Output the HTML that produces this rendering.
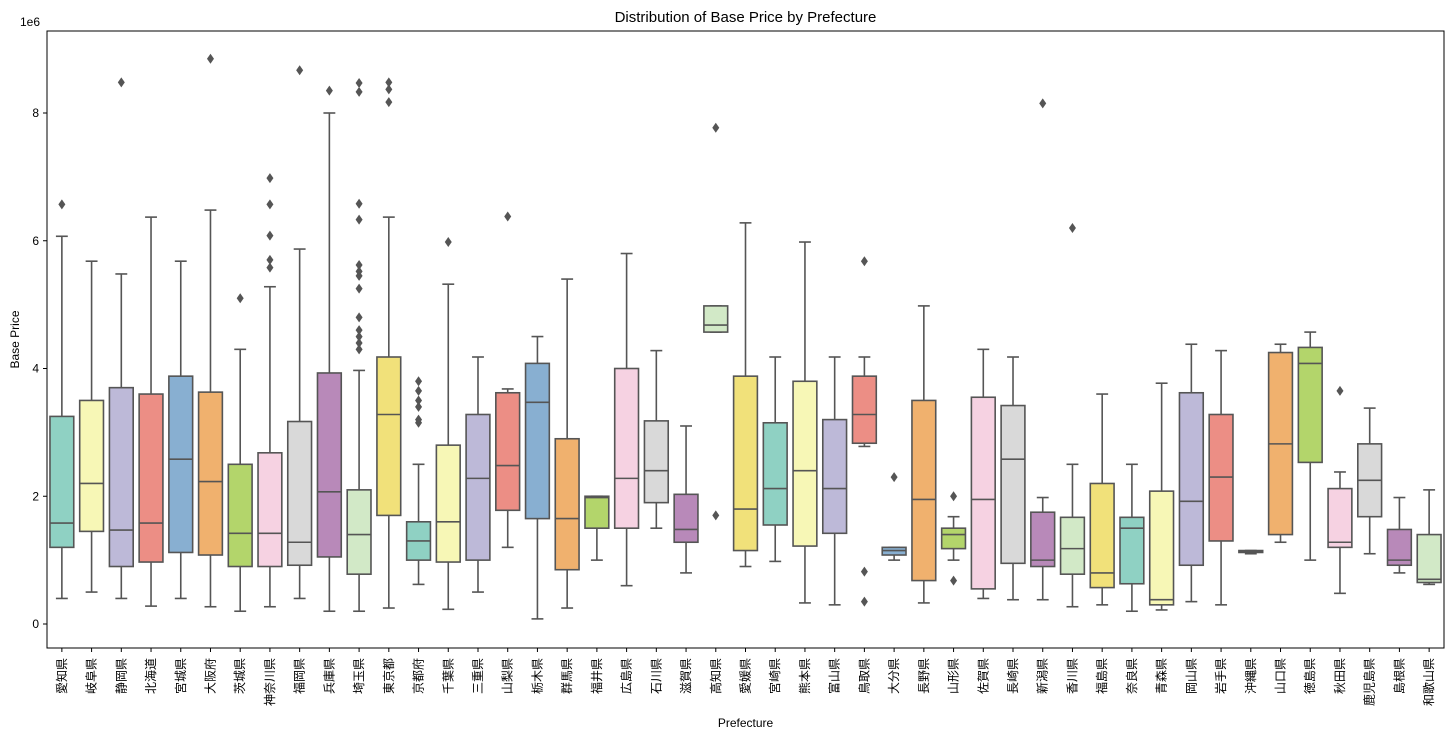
<!DOCTYPE html>
<html><head><meta charset="utf-8"><style>
body{margin:0;background:#fff;}
svg{display:block;font-family:"Liberation Sans","Noto Sans CJK JP",sans-serif;}
</style></head><body>
<svg id="chart" width="1452" height="741"></svg>
<script>
const categories=["愛知県","岐阜県","静岡県","北海道","宮城県","大阪府","茨城県","神奈川県","福岡県","兵庫県","埼玉県","東京都","京都府","千葉県","三重県","山梨県","栃木県","群馬県","福井県","広島県","石川県","滋賀県","高知県","愛媛県","宮崎県","熊本県","富山県","鳥取県","大分県","長野県","山形県","佐賀県","長崎県","新潟県","香川県","福島県","奈良県","青森県","岡山県","岩手県","沖縄県","山口県","徳島県","秋田県","鹿児島県","島根県","和歌山県"];
const whiskerLow=[0.4,0.5,0.4,0.28,0.4,0.27,0.2,0.27,0.4,0.2,0.2,0.25,0.62,0.23,0.5,1.2,0.08,0.25,1.0,0.6,1.5,0.8,4.57,0.9,0.98,0.33,0.3,2.78,1.0,0.33,1.0,0.4,0.38,0.38,0.27,0.3,0.2,0.22,0.35,0.3,1.1,1.28,1.0,0.48,1.1,0.8,0.62];
const q1=[1.2,1.45,0.9,0.97,1.12,1.08,0.9,0.9,0.92,1.05,0.78,1.7,1.0,0.97,1.0,1.78,1.65,0.85,1.5,1.5,1.9,1.28,4.57,1.15,1.55,1.22,1.42,2.83,1.08,0.68,1.18,0.55,0.95,0.9,0.78,0.57,0.63,0.3,0.92,1.3,1.12,1.4,2.53,1.2,1.68,0.92,0.65];
const median=[1.58,2.2,1.47,1.58,2.58,2.23,1.42,1.42,1.28,2.07,1.4,3.28,1.3,1.6,2.28,2.48,3.47,1.65,1.98,2.28,2.4,1.48,4.68,1.8,2.12,2.4,2.12,3.28,1.15,1.95,1.4,1.95,2.58,1.0,1.18,0.8,1.5,0.38,1.92,2.3,1.13,2.82,4.08,1.28,2.25,1.0,0.7];
const q3=[3.25,3.5,3.7,3.6,3.88,3.63,2.5,2.68,3.17,3.93,2.1,4.18,1.6,2.8,3.28,3.62,4.08,2.9,2.0,4.0,3.18,2.03,4.98,3.88,3.15,3.8,3.2,3.88,1.2,3.5,1.5,3.55,3.42,1.75,1.67,2.2,1.67,2.08,3.62,3.28,1.15,4.25,4.33,2.12,2.82,1.48,1.4];
const whiskerHigh=[6.07,5.68,5.48,6.37,5.68,6.48,4.3,5.28,5.87,8.0,3.97,6.37,2.5,5.32,4.18,3.68,4.5,5.4,2.0,5.8,4.28,3.1,4.98,6.28,4.18,5.98,4.18,4.18,1.2,4.98,1.68,4.3,4.18,1.98,2.5,3.6,2.5,3.77,4.38,4.28,1.15,4.38,4.57,2.38,3.38,1.98,2.1];
const outliers=[[6.57],[],[8.48],[],[],[8.85],[5.1],[5.58,5.7,6.08,6.57,6.98],[8.67],[8.35],[4.3,4.4,4.5,4.6,4.8,5.25,5.45,5.52,5.62,6.33,6.58,8.33,8.47],[8.17,8.37,8.48],[3.15,3.2,3.4,3.5,3.65,3.8],[5.98],[],[6.38],[],[],[],[],[],[],[1.7,7.77],[],[],[],[],[0.35,0.82,5.68],[2.3],[],[0.68,2.0],[],[],[8.15],[6.2],[],[],[],[],[],[],[],[],[3.65],[],[],[]];
const yTicks=[0,2,4,6,8];
const palette=["#8fd1c3","#f7f7b6","#bdb9d8","#ec8e85","#88afd1","#f0b16e","#b3d56b","#f6d2e2","#d9d9d9","#b889b9","#d2e9c7","#f1e17a"];

const NS="http://www.w3.org/2000/svg";
const svg=document.getElementById('chart');
const L=47,R=1444,T=31,B=648;
const y0=624,pxPerUnit=63.875;
const band=(R-L)/categories.length;
const yS=v=>y0-v*pxPerUnit;
const xS=i=>L+band*(i+0.5);
function mk(tag,attrs,parent){const e=document.createElementNS(NS,tag);for(const k in attrs)e.setAttribute(k,attrs[k]);(parent||svg).appendChild(e);return e;}
const ln="#555555";

const title=mk('text',{x:(L+R)/2,y:22,'text-anchor':'middle','font-size':15,fill:'#000'});


title.textContent="Distribution of Base Price by Prefecture";

const expo=mk('text',{x:20,y:26,'font-size':12,fill:'#000'});


expo.textContent="1e6";

yTicks.forEach(t=>{
  mk('line',{x1:L-4,x2:L,y1:yS(t),y2:yS(t),stroke:'#000'});
  const tx=mk('text',{x:L-8,y:yS(t)+4,'text-anchor':'end','font-size':12,fill:'#000'});
  
  
  tx.textContent=t;
});

const yl=mk('text',{transform:'translate(19,'+((T+B)/2)+') rotate(-90)','text-anchor':'middle','font-size':12,fill:'#000'});


yl.textContent="Base Price";
const xl=mk('text',{x:(L+R)/2,y:727,'text-anchor':'middle','font-size':12,fill:'#000'});


xl.textContent="Prefecture";

const bw=band*0.8;
categories.forEach((c,i)=>{
  const cx=xS(i);
  const g=mk('g',{});
  
  
  mk('line',{x1:cx,x2:cx,y1:yS(whiskerLow[i]),y2:yS(q1[i]),stroke:ln,'stroke-width':1.6},g);
  mk('line',{x1:cx,x2:cx,y1:yS(q3[i]),y2:yS(whiskerHigh[i]),stroke:ln,'stroke-width':1.6},g);
  mk('line',{x1:cx-bw/4,x2:cx+bw/4,y1:yS(whiskerLow[i]),y2:yS(whiskerLow[i]),stroke:ln,'stroke-width':1.6},g);
  mk('line',{x1:cx-bw/4,x2:cx+bw/4,y1:yS(whiskerHigh[i]),y2:yS(whiskerHigh[i]),stroke:ln,'stroke-width':1.6},g);
  mk('rect',{x:cx-bw/2,y:yS(q3[i]),width:bw,height:Math.max(yS(q1[i])-yS(q3[i]),0.5),fill:palette[i%12],stroke:ln,'stroke-width':1.6},g);
  mk('line',{x1:cx-bw/2,x2:cx+bw/2,y1:yS(median[i]),y2:yS(median[i]),stroke:ln,'stroke-width':1.6},g);
  outliers[i].forEach(o=>{
    const d=mk('path',{d:`M${cx},${yS(o)-5} L${cx+3.5},${yS(o)} L${cx},${yS(o)+5} L${cx-3.5},${yS(o)} Z`,fill:ln},g);
    
    
  });
  mk('line',{x1:cx,x2:cx,y1:B,y2:B+4,stroke:'#000'});
  const lt=mk('text',{transform:`translate(${cx+4},${B+10}) rotate(-90)`,'text-anchor':'end','font-size':12,fill:'#000'});
  
  
  lt.textContent=c;
});

const frame=mk('rect',{x:L,y:T,width:R-L,height:B-T,fill:'none',stroke:'#000','stroke-width':1});


</script>
</body></html>
